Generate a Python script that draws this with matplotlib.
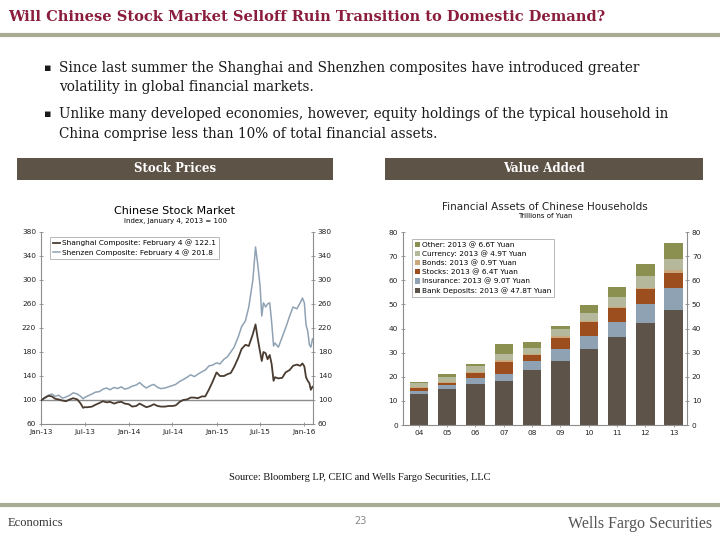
import matplotlib
matplotlib.use('Agg')
import matplotlib.pyplot as plt
import matplotlib.dates as mdates
from matplotlib.patches import Rectangle
import pandas as pd

# --- left chart: stock indices (Jan 4, 2013 = 100) ---
fechas = [
    '2013-01-04', '2013-01-15', '2013-02-01', '2013-02-15', '2013-03-01', '2013-03-15',
    '2013-04-01', '2013-04-15', '2013-05-01', '2013-05-15', '2013-06-01', '2013-06-15',
    '2013-06-25', '2013-07-01', '2013-07-15', '2013-08-01', '2013-08-15', '2013-09-01',
    '2013-09-15', '2013-10-01', '2013-10-15', '2013-11-01', '2013-11-15', '2013-12-01',
    '2013-12-15', '2014-01-01', '2014-01-15', '2014-02-01', '2014-02-15', '2014-03-01',
    '2014-03-15', '2014-04-01', '2014-04-15', '2014-05-01', '2014-05-15', '2014-06-01',
    '2014-06-15', '2014-07-01', '2014-07-15', '2014-08-01', '2014-08-15', '2014-09-01',
    '2014-09-15', '2014-10-01', '2014-10-15', '2014-11-01', '2014-11-15', '2014-12-01',
    '2014-12-15', '2015-01-01', '2015-01-15', '2015-02-01', '2015-02-15', '2015-03-01',
    '2015-03-15', '2015-04-01', '2015-04-15', '2015-05-01', '2015-05-15', '2015-06-01',
    '2015-06-12', '2015-06-20', '2015-07-01', '2015-07-08', '2015-07-15', '2015-07-24',
    '2015-08-01', '2015-08-10', '2015-08-18', '2015-08-26', '2015-09-01', '2015-09-15',
    '2015-10-01', '2015-10-15', '2015-11-01', '2015-11-15', '2015-12-01', '2015-12-15',
    '2015-12-24', '2016-01-01', '2016-01-08', '2016-01-15', '2016-01-22', '2016-01-28',
    '2016-02-04',
]
shanghai = [
    100, 103, 107, 106, 102, 101, 99, 98, 101, 103, 101, 94,
    87, 88, 88, 89, 92, 95, 98, 96, 97, 94, 96, 97,
    94, 93, 89, 90, 94, 91, 88, 90, 93, 90, 89, 89,
    90, 90, 91, 97, 100, 101, 104, 104, 103, 106, 106, 118,
    130, 146, 140, 140, 143, 145, 155, 170, 185, 192, 190, 210,
    226, 205, 180, 165, 180, 178, 168, 175, 160, 132, 138, 136,
    137, 146, 150, 157, 159, 157, 161, 156, 138, 132, 128, 117,
    122.1,
]
shenzhen = [
    100, 104, 108, 110, 106, 108, 103, 105, 108, 112, 110, 106,
    102, 104, 107, 110, 113, 114, 118, 120, 117, 121, 119, 122,
    118, 120, 123, 125, 129, 124, 120, 124, 126, 121, 119, 120,
    122, 124, 126, 131, 134, 138, 142, 139, 143, 147, 150, 157,
    158, 162, 160, 168, 172, 180, 188, 205, 222, 232, 255, 300,
    355, 330, 290, 240, 262, 255, 260, 262, 230, 190, 195, 188,
    205, 220, 240, 255, 252, 262, 270, 262, 225, 215, 192, 188,
    201.8,
]

# --- right chart: household financial assets (trillions of yuan) ---
anios = ['04', '05', '06', '07', '08', '09', '10', '11', '12', '13']
depositos = [12.8, 15.0, 17.2, 18.2, 22.9, 26.6, 31.7, 36.4, 42.3, 47.8]
seguros = [1.3, 1.6, 2.2, 2.8, 3.7, 4.8, 5.1, 6.2, 7.9, 9.0]
acciones = [1.1, 0.9, 2.0, 5.2, 2.4, 4.7, 6.0, 6.0, 6.2, 6.4]
bonos = [0.5, 0.4, 0.4, 0.8, 0.5, 0.6, 0.5, 0.5, 0.4, 0.9]
moneda = [1.7, 2.1, 2.6, 2.5, 2.6, 3.0, 3.3, 4.0, 5.0, 4.9]
otros = [0.5, 1.0, 0.7, 4.2, 2.4, 1.5, 3.3, 4.0, 4.8, 6.6]

series = [
    ('Bank Deposits: 2013 @ 47.8T Yuan', depositos, '#5e5348'),
    ('Insurance: 2013 @ 9.0T Yuan', seguros, '#8fa2b4'),
    ('Stocks: 2013 @ 6.4T Yuan', acciones, '#9c4e1e'),
    ('Bonds: 2013 @ 0.9T Yuan', bonos, '#c9a97c'),
    ('Currency: 2013 @ 4.9T Yuan', moneda, '#b6b89b'),
    ('Other: 2013 @ 6.6T Yuan', otros, '#8b8f50'),
]

W, H = 720, 540
fig = plt.figure(figsize=(7.2, 5.4), dpi=100)
fig.patch.set_facecolor('white')


def fx(px):
    return px / W


def fy(py):
    return 1 - py / H


serif = 'DejaVu Serif'
linea_color = '#a9ab93'
marron = '#5e5347'

# header
fig.text(fx(8), fy(17), 'Will Chinese Stock Market Selloff Ruin Transition to Domestic Demand?',
         family=serif, fontsize=10.5, fontweight='bold', color='#8a1c3c', va='center', ha='left')
fig.add_artist(plt.Line2D([0, 1], [fy(35), fy(35)], color=linea_color, lw=3, transform=fig.transFigure))

# bullets
bullets = [
    (68, 'Since last summer the Shanghai and Shenzhen composites have introduced greater'),
    (87, 'volatility in global financial markets.'),
    (114, 'Unlike many developed economies, however, equity holdings of the typical household in'),
    (134, 'China comprise less than 10% of total financial assets.'),
]
for y, txt in bullets:
    fig.text(fx(59), fy(y), txt, family=serif, fontsize=9.8, color='#1a1a1a', va='center', ha='left')
for y in [68, 114]:
    fig.text(fx(44), fy(y), '\u25aa', family='DejaVu Sans', fontsize=8, color='#1a1a1a', va='center', ha='left')

# section boxes
for x0, x1, txt in [(17, 333, 'Stock Prices'), (385, 703, 'Value Added')]:
    fig.add_artist(Rectangle((fx(x0), fy(180)), fx(x1 - x0), 22 / H, transform=fig.transFigure,
                             facecolor=marron, edgecolor='none'))
    fig.text(fx((x0 + x1) / 2), fy(168.5), txt, family=serif, fontsize=8.5, fontweight='bold',
             color='white', ha='center', va='center')

# ---------- left chart ----------
ax1 = fig.add_axes([fx(41), fy(424), fx(313 - 41), (424 - 232) / H])
fechas_dt = pd.to_datetime(fechas)
ax1.axhline(100, color='#8c8c8c', lw=1.0, zorder=1)
ax1.plot(fechas_dt, shanghai, color='#4a3c31', lw=1.3,
         label='Shanghai Composite: February 4 @ 122.1', zorder=3)
ax1.plot(fechas_dt, shenzhen, color='#8fa2b4', lw=1.1,
         label='Shenzen Composite: February 4 @ 201.8', zorder=2)
ax1.set_ylim(60, 380)
ax1.set_yticks(range(60, 381, 40))
ax1.set_xlim(pd.Timestamp('2013-01-01'), pd.Timestamp('2016-02-06'))
ax1.xaxis.set_major_locator(mdates.MonthLocator(bymonth=[1, 7]))
ax1.xaxis.set_major_formatter(mdates.DateFormatter('%b-%y'))
ax1b = ax1.twinx()
ax1b.set_ylim(60, 380)
ax1b.set_yticks(range(60, 381, 40))
leg1 = ax1.legend(loc='upper left', bbox_to_anchor=(0.02, 0.995), fontsize=5.3, frameon=True,
                  fancybox=False, handlelength=1.0, handletextpad=0.2, borderpad=0.4,
                  labelspacing=0.35)
leg1.get_frame().set_edgecolor('#999999')
leg1.get_frame().set_linewidth(0.6)
fig.text(fx(175), fy(211), 'Chinese Stock Market', family='DejaVu Sans', fontsize=8, ha='center', va='center')
fig.text(fx(175), fy(221), 'Index, January 4, 2013 = 100', family='DejaVu Sans', fontsize=5, ha='center', va='center')

# ---------- right chart ----------
ax2 = fig.add_axes([fx(403), fy(425), fx(687 - 403), (425 - 232) / H])
base = [0] * len(anios)
xs = list(range(len(anios)))
for nombre, valores, color in series:
    ax2.bar(xs, valores, bottom=base, width=0.65, color=color, label=nombre, zorder=2)
    base = [b + v for b, v in zip(base, valores)]
ax2.set_xticks(xs)
ax2.set_xticklabels(anios)
ax2.set_xlim(-0.56, 9.47)
ax2.set_ylim(0, 80)
ax2.set_yticks(range(0, 81, 10))
ax2b = ax2.twinx()
ax2b.set_ylim(0, 80)
ax2b.set_yticks(range(0, 81, 10))
h, l = ax2.get_legend_handles_labels()
leg2 = ax2.legend(h[::-1], l[::-1], loc='upper left', bbox_to_anchor=(0.02, 0.985), fontsize=5.3,
                  frameon=True, fancybox=False, handlelength=0.7, handleheight=0.7,
                  handletextpad=0.2, borderpad=0.4, labelspacing=0.35)
leg2.get_frame().set_edgecolor('#999999')
leg2.get_frame().set_linewidth(0.6)
fig.text(fx(545), fy(207), 'Financial Assets of Chinese Households', family='DejaVu Sans',
         fontsize=7.5, color='#222222', ha='center', va='center')
fig.text(fx(545), fy(216), 'Trillions of Yuan', family='DejaVu Sans', fontsize=5, ha='center', va='center')

# common axis styling
for ax in [ax1, ax1b, ax2, ax2b]:
    ax.set_facecolor('none')
    ax.spines['top'].set_visible(False)
    for s in ['left', 'right', 'bottom']:
        ax.spines[s].set_color('#8c8c8c')
        ax.spines[s].set_linewidth(0.8)
    ax.tick_params(labelsize=5.3, colors='#8c8c8c', labelcolor='#222222', length=3,
                   width=0.6, direction='inout', pad=2)
for ax in [ax1b, ax2b]:
    ax.spines['left'].set_visible(False)
    ax.spines['bottom'].set_visible(False)
for ax in [ax1, ax2]:
    ax.spines['right'].set_visible(False)

# footer
fig.text(0.5, fy(478), 'Source: Bloomberg LP, CEIC and Wells Fargo Securities, LLC',
         family='Liberation Serif', fontsize=7.5, color='#111111', ha='center', va='center')
fig.add_artist(plt.Line2D([0, 1], [fy(505), fy(505)], color=linea_color, lw=3, transform=fig.transFigure))
fig.text(fx(8), fy(523), 'Economics', family='Liberation Serif', fontsize=9, color='#333333',
         ha='left', va='center')
fig.text(fx(360), fy(521), '23', family='DejaVu Sans', fontsize=7, color='#888888', ha='center', va='center')
fig.text(fx(712), fy(524), 'Wells Fargo Securities', family='Liberation Serif', fontsize=11.5,
         color='#555555', ha='right', va='center')

fig.savefig('out.png', dpi=100)
